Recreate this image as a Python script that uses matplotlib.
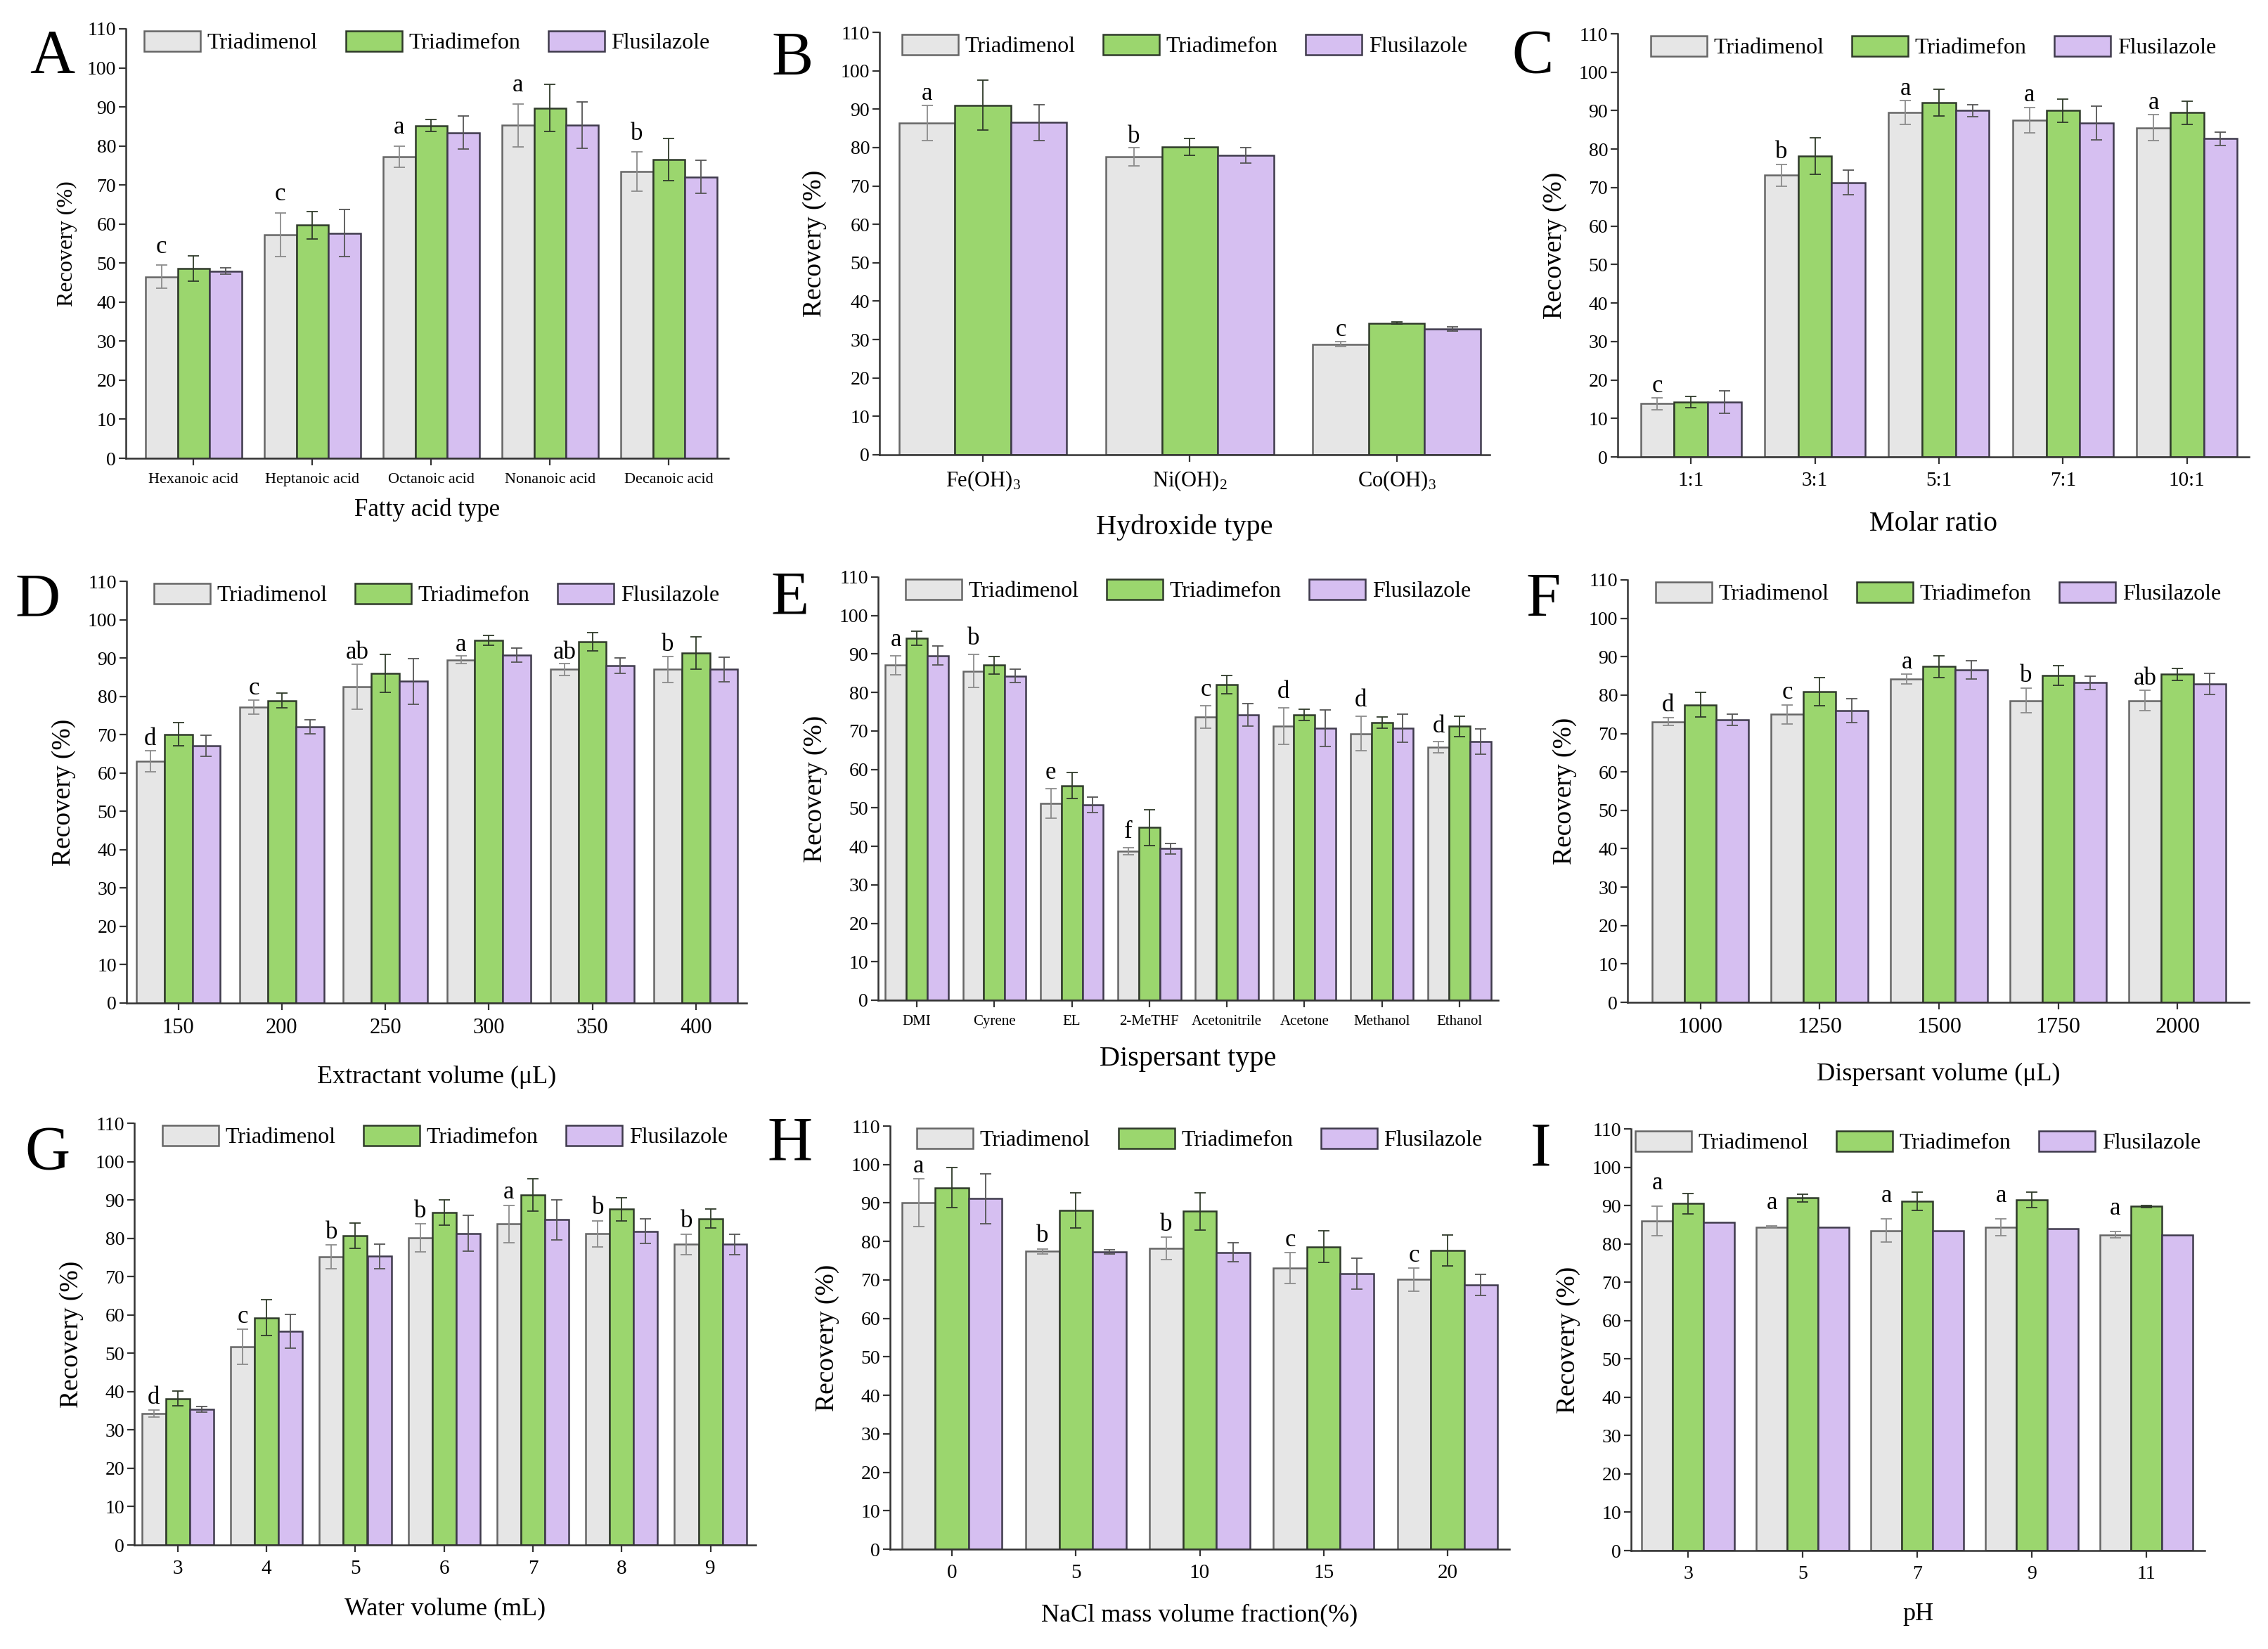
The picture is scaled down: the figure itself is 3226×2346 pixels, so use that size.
import matplotlib.pyplot as plt
import numpy as np

plt.rcParams['font.family'] = ['Liberation Serif', 'DejaVu Serif']
plt.rcParams['mathtext.fontset'] = 'custom'
plt.rcParams['mathtext.rm'] = 'Liberation Serif'
plt.rcParams['mathtext.default'] = 'regular'

series = ['Triadimenol', 'Triadimefon', 'Flusilazole']

# A - fatty acid type
a_cats = ['Hexanoic acid', 'Heptanoic acid', 'Octanoic acid', 'Nonanoic acid', 'Decanoic acid']
a_mean = [[46.5, 57.3, 77.3, 85.3, 73.5],
          [48.6, 59.7, 85.2, 89.7, 76.5],
          [47.9, 57.7, 83.4, 85.3, 72.1]]
a_sd = [[3.0, 5.6, 2.7, 5.5, 5.0],
        [3.2, 3.5, 1.5, 6.0, 5.4],
        [0.8, 6.0, 4.2, 5.9, 4.2]]
a_sig = ['c', 'c', 'a', 'a', 'b']

# B - hydroxide type
b_cats = ['Fe(OH)$_3$', 'Ni(OH)$_2$', 'Co(OH)$_3$']
b_mean = [[86.4, 77.6, 28.8],
          [91.0, 80.2, 34.3],
          [86.5, 77.9, 32.8]]
b_sd = [[4.6, 2.3, 0.7],
        [6.5, 2.2, 0.3],
        [4.7, 2.0, 0.6]]
b_sig = ['a', 'b', 'c']

# C - molar ratio
c_cats = ['1:1', '3:1', '5:1', '7:1', '10:1']
c_mean = [[13.8, 73.2, 89.5, 87.6, 85.6],
          [14.3, 78.2, 92.1, 90.0, 89.5],
          [14.3, 71.3, 90.0, 86.8, 82.7]]
c_sd = [[1.5, 2.9, 3.1, 3.3, 3.3],
        [1.5, 4.8, 3.4, 3.0, 3.0],
        [2.9, 3.2, 1.5, 4.3, 1.8]]
c_sig = ['c', 'b', 'a', 'a', 'a']

# D - extractant volume
d_cats = ['150', '200', '250', '300', '350', '400']
d_mean = [[63.1, 77.2, 82.5, 89.5, 87.0, 87.0],
          [70.1, 78.9, 86.0, 94.6, 94.2, 91.3],
          [67.1, 72.1, 83.9, 90.8, 88.0, 87.0]]
d_sd = [[2.7, 1.8, 5.9, 1.0, 1.5, 3.4],
        [3.0, 1.9, 5.0, 1.2, 2.4, 4.3],
        [2.8, 1.8, 5.9, 1.8, 2.0, 3.2]]
d_sig = ['d', 'c', 'ab', 'a', 'ab', 'b']

# E - dispersant type
e_cats = ['DMI', 'Cyrene', 'EL', '2-MeTHF', 'Acetonitrile', 'Acetone', 'Methanol', 'Ethanol']
e_mean = [[87.1, 85.6, 51.2, 38.8, 73.7, 71.3, 69.3, 65.8],
          [94.1, 87.1, 55.8, 44.9, 82.0, 74.2, 72.2, 71.2],
          [89.6, 84.3, 50.8, 39.4, 74.2, 70.7, 70.7, 67.3]]
e_sd = [[2.5, 4.3, 3.8, 0.9, 2.9, 4.8, 4.5, 1.4],
        [1.8, 2.3, 3.4, 4.7, 2.4, 1.4, 1.5, 2.6],
        [2.5, 1.7, 2.0, 1.4, 3.0, 4.8, 3.7, 3.3]]
e_sig = ['a', 'b', 'e', 'f', 'c', 'd', 'd', 'd']

# F - dispersant volume
f_cats = ['1000', '1250', '1500', '1750', '2000']
f_mean = [[73.1, 75.0, 84.2, 78.6, 78.6],
          [77.5, 80.9, 87.4, 85.1, 85.4],
          [73.6, 76.0, 86.6, 83.2, 82.9]]
f_sd = [[1.0, 2.5, 1.2, 3.2, 2.6],
        [3.2, 3.7, 2.8, 2.5, 1.6],
        [1.4, 3.1, 2.4, 1.7, 2.7]]
f_sig = ['d', 'c', 'a', 'b', 'ab']

# G - water volume
g_cats = ['3', '4', '5', '6', '7', '8', '9']
g_mean = [[34.3, 51.7, 75.1, 80.1, 83.7, 81.2, 78.4],
          [38.2, 59.3, 80.6, 86.7, 91.3, 87.6, 85.1],
          [35.4, 55.8, 75.3, 81.3, 84.8, 81.8, 78.4]]
g_sd = [[0.9, 4.5, 3.1, 3.6, 4.9, 3.4, 2.7],
        [1.9, 4.6, 3.3, 3.3, 4.3, 3.0, 2.5],
        [0.8, 4.4, 3.2, 4.6, 5.2, 3.2, 2.6]]
g_sig = ['d', 'c', 'b', 'b', 'a', 'b', 'b']

# H - NaCl
h_cats = ['0', '5', '10', '15', '20']
h_mean = [[90.1, 77.4, 78.2, 73.1, 70.1],
          [94.0, 88.1, 87.8, 78.6, 77.6],
          [91.1, 77.3, 77.2, 71.6, 68.7]]
h_sd = [[6.2, 0.7, 2.9, 4.0, 3.0],
        [5.2, 4.6, 4.8, 4.1, 4.0],
        [6.5, 0.6, 2.5, 4.0, 2.8]]
h_sig = ['a', 'b', 'b', 'c', 'c']

# I - pH
i_cats = ['3', '5', '7', '9', '11']
i_mean = [[86.0, 84.4, 83.5, 84.4, 82.4],
          [90.5, 92.0, 91.1, 91.5, 89.8],
          [85.6, 84.4, 83.4, 84.0, 82.4]]
i_sd = [[3.9, 0.3, 3.0, 2.2, 0.8],
        [2.6, 1.0, 2.4, 2.0, 0.3],
        [0.0, 0.0, 0.0, 0.0, 0.0]]
i_sig = ['a', 'a', 'a', 'a', 'a']

fills = ['#e6e6e6', '#9bd66e', '#d6bff1']
edges = ['#666666', '#2f3a2a', '#3f3a4c']
errc = ['#8c8c8c', '#2f3a2a', '#555555']

W, H = 3226, 2346
fig = plt.figure(figsize=(W / 100, H / 100), dpi=100)


def panel(box, letter, lpos, cats, mean, sd, sig, sig_off, xlabel, xlim,
          xts=21, xls=26, yls=27, xlp=18, ylp=12):
    x0, y0, x1, y1 = box
    ax = fig.add_axes([x0 / W, 1 - y1 / H, (x1 - x0) / W, (y1 - y0) / H])
    x = np.arange(len(cats))
    w = 0.27
    for i in range(3):
        xs = x + (i - 1) * w
        ax.bar(xs, mean[i], w, color=fills[i], edgecolor=edges[i],
               linewidth=1.8, label=series[i], zorder=2)
        m = np.array(sd[i]) > 0
        if m.any():
            ax.errorbar(xs[m], np.array(mean[i])[m], yerr=np.array(sd[i])[m],
                        fmt='none', ecolor=errc[i], elinewidth=1.3,
                        capsize=5.5, capthick=1.3, zorder=3)
    tops = np.array(mean[0]) + np.array(sd[0])
    for xi, t, s in zip(x - w, tops, sig):
        ax.text(xi, t + sig_off, s, ha='center', va='baseline', fontsize=25)

    ax.set_ylim(0, 110)
    ax.set_yticks(range(0, 111, 10))
    ax.set_xlim(*xlim)
    ax.set_xticks(x)
    ax.set_xticklabels(cats)
    for s in ['top', 'right']:
        ax.spines[s].set_visible(False)
    for s in ['left', 'bottom']:
        ax.spines[s].set_linewidth(1.8)
        ax.spines[s].set_color('#333333')
    ax.tick_params(axis='both', direction='out', length=7, width=1.6,
                   color='#333333')
    ax.tick_params(axis='y', labelsize=20, pad=3)
    ax.tick_params(axis='x', labelsize=xts, pad=8)
    ax.set_xlabel(xlabel, fontsize=xls, labelpad=xlp)
    ax.set_ylabel('Recovery (%)', fontsize=yls, labelpad=ylp)
    ax.legend(loc='upper center', bbox_to_anchor=(0.5, 1.0), ncol=3,
              frameon=False, fontsize=23, handlelength=2.5, handleheight=1.0,
              handletextpad=0.3, columnspacing=1.25, borderaxespad=0,
              borderpad=0.1)
    fig.text(lpos[0] / W, 1 - lpos[1] / H, letter, fontsize=64,
             ha='left', va='baseline')
    return ax


panel((179, 41, 1036, 652), 'A', (42, 103), a_cats, a_mean, a_sd, a_sig, 3.1,
      'Fatty acid type', (-0.57, 4.5), xts=16, xls=25, yls=23, xlp=12, ylp=10)
panel((1251, 46, 2119, 647), 'B', (1097, 106), b_cats, b_mean, b_sd, b_sig, 1.4,
      'Hydroxide type', (-0.5, 2.45), xts=22, xls=29, xlp=22, ylp=14)
panel((2301, 48, 3199, 650), 'C', (2150, 103), c_cats, c_mean, c_sd, c_sig, 1.5,
      'Molar ratio', (-0.59, 4.5), xts=21, xls=29, xlp=22)
panel((180, 827, 1062, 1427), 'D', (21, 877), d_cats, d_mean, d_sd, d_sig, 1.4,
      'Extractant volume (\u03bcL)', (-0.5, 5.49), xts=22, xls=26, xlp=28)
panel((1249, 821, 2131, 1423), 'E', (1096, 874), e_cats, e_mean, e_sd, e_sig, 2.5,
      'Dispersant type', (-0.5, 7.5), xts=15, xls=29, xlp=18)
panel((2315, 825, 3199, 1426), 'F', (2170, 875), f_cats, f_mean, f_sd, f_sig, 1.6,
      'Dispersant volume (\u03bcL)', (-0.61, 4.6), xts=23, xls=26, xlp=26)
panel((191, 1598, 1075, 2198), 'G', (35, 1663), g_cats, g_mean, g_sd, g_sig, 1.7,
      'Water volume (mL)', (-0.49, 6.51), xts=21, xls=26, xlp=20)
panel((1266, 1602, 2147, 2204), 'H', (1092, 1649), h_cats, h_mean, h_sd, h_sig, 1.7,
      'NaCl mass volume fraction(%)', (-0.5, 4.5), xts=21, xls=26, xlp=22)
panel((2320, 1606, 3136, 2206), 'I', (2177, 1658), i_cats, i_mean, i_sd, i_sig, 4.4,
      'pH', (-0.5, 4.51), xts=20, xls=26, xlp=20)

fig.savefig('out.png', dpi=100)
